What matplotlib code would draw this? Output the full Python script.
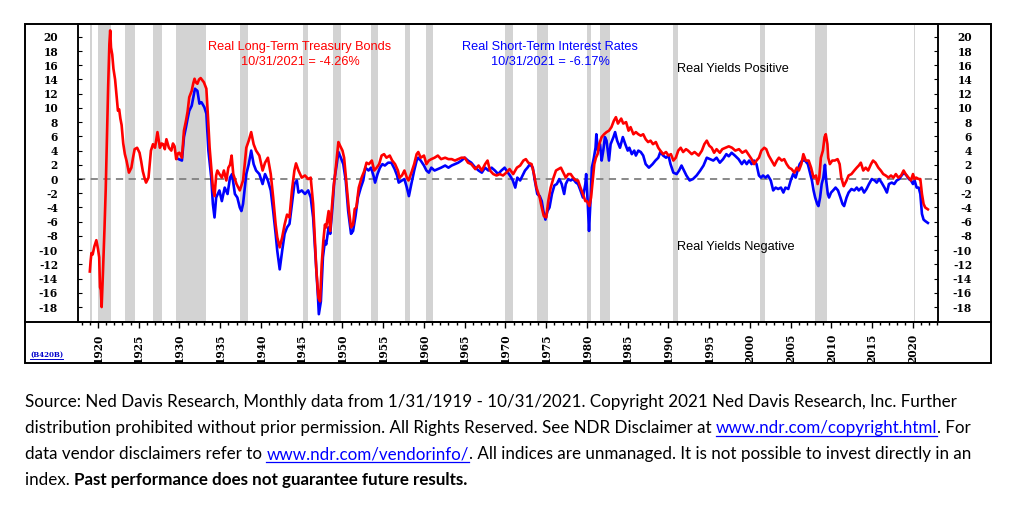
import matplotlib
matplotlib.use('Agg')
import matplotlib.pyplot as plt
from matplotlib.lines import Line2D
from matplotlib.patches import Rectangle
from matplotlib.ticker import MultipleLocator

plt.rcParams['axes.unicode_minus'] = False

# ---------------- data ----------------
lt_years = [1919.00, 1919.10, 1919.20, 1919.35, 1919.55, 1919.80, 1920.00, 1920.15, 1920.25, 1920.35,
            1920.45, 1920.60, 1920.80, 1920.95, 1921.10, 1921.25, 1921.40, 1921.50, 1921.60, 1921.75,
            1921.90, 1922.10, 1922.30, 1922.45, 1922.60, 1922.75, 1922.90, 1923.10, 1923.30, 1923.50,
            1923.80, 1924.10, 1924.30, 1924.50, 1924.80, 1925.10, 1925.30, 1925.50, 1925.75, 1925.90,
            1926.20, 1926.50, 1926.75, 1927.00, 1927.30, 1927.60, 1927.80, 1928.00, 1928.20, 1928.40,
            1928.70, 1929.00, 1929.20, 1929.40, 1929.60, 1929.80, 1930.00, 1930.30, 1930.55, 1930.80,
            1931.00, 1931.20, 1931.50, 1931.70, 1931.85, 1932.00, 1932.20, 1932.40, 1932.60, 1932.80,
            1933.00, 1933.30, 1933.50, 1933.70, 1933.90, 1934.10, 1934.30, 1934.50, 1934.65, 1934.90,
            1935.20, 1935.45, 1935.75, 1936.00, 1936.20, 1936.40, 1936.60, 1937.00, 1937.40, 1937.80,
            1938.00, 1938.20, 1938.50, 1938.80, 1939.10, 1939.40, 1939.80, 1940.20, 1940.50, 1940.85,
            1941.20, 1941.50, 1941.80, 1942.00, 1942.30, 1942.60, 1942.90, 1943.20, 1943.50, 1943.80,
            1944.10, 1944.30, 1944.60, 1945.00, 1945.40, 1945.80, 1946.10, 1946.40, 1946.60, 1946.80,
            1947.05, 1947.25, 1947.45, 1947.65, 1947.85, 1948.00, 1948.30, 1948.50, 1948.70, 1948.90,
            1949.10, 1949.30, 1949.50, 1949.70, 1950.00, 1950.20, 1950.50, 1950.80, 1951.05, 1951.30,
            1951.50, 1951.70, 1952.00, 1952.35, 1952.70, 1952.95, 1953.25, 1953.60, 1953.90, 1954.20,
            1954.50, 1954.80, 1955.10, 1955.40, 1955.80, 1956.10, 1956.45, 1956.80, 1957.00, 1957.30,
            1957.60, 1957.90, 1958.10, 1958.40, 1958.80, 1959.10, 1959.30, 1959.60, 1960.00, 1960.30,
            1960.60, 1960.90, 1961.30, 1961.70, 1962.10, 1962.60, 1963.00, 1963.40, 1963.80, 1964.20,
            1964.60, 1965.00, 1965.40, 1965.80, 1966.30, 1966.70, 1967.10, 1967.50, 1967.80, 1968.10,
            1968.50, 1968.90, 1969.30, 1969.70, 1970.10, 1970.50, 1970.95, 1971.40, 1971.80, 1972.20,
            1972.50, 1972.80, 1973.20, 1973.50, 1973.80, 1974.20, 1974.45, 1974.70, 1975.00, 1975.25,
            1975.55, 1975.90, 1976.20, 1976.50, 1976.80, 1977.10, 1977.40, 1977.70, 1978.00, 1978.30,
            1978.65, 1978.90, 1979.20, 1979.50, 1979.80, 1980.00, 1980.30, 1980.50, 1980.70, 1980.90,
            1981.10, 1981.30, 1981.50, 1981.80, 1982.10, 1982.40, 1982.70, 1983.00, 1983.30, 1983.55,
            1983.80, 1984.20, 1984.45, 1984.80, 1985.10, 1985.35, 1985.70, 1986.00, 1986.30, 1986.60,
            1986.90, 1987.20, 1987.50, 1987.80, 1988.10, 1988.45, 1988.75, 1989.00, 1989.35, 1989.70,
            1990.00, 1990.30, 1990.60, 1990.90, 1991.20, 1991.50, 1991.80, 1992.15, 1992.40, 1992.85,
            1993.20, 1993.70, 1994.10, 1994.40, 1994.70, 1995.00, 1995.30, 1995.60, 1995.90, 1996.30,
            1996.60, 1997.00, 1997.40, 1997.80, 1998.20, 1998.65, 1999.05, 1999.50, 1999.90, 2000.20,
            2000.50, 2000.80, 2001.10, 2001.40, 2001.75, 2002.00, 2002.30, 2002.65, 2003.00, 2003.30,
            2003.55, 2003.90, 2004.20, 2004.50, 2004.80, 2005.10, 2005.45, 2005.75, 2006.00, 2006.30,
            2006.55, 2006.85, 2007.20, 2007.50, 2007.80, 2008.10, 2008.30, 2008.50, 2008.70, 2008.95,
            2009.15, 2009.30, 2009.50, 2009.60, 2009.80, 2010.10, 2010.40, 2010.75, 2011.00, 2011.20,
            2011.50, 2011.85, 2012.10, 2012.45, 2012.80, 2013.10, 2013.35, 2013.60, 2013.90, 2014.20,
            2014.50, 2014.85, 2015.10, 2015.40, 2015.75, 2016.05, 2016.35, 2016.65, 2017.00, 2017.30,
            2017.60, 2017.90, 2018.20, 2018.55, 2018.85, 2019.10, 2019.45, 2019.75, 2020.00, 2020.20,
            2020.40, 2020.70, 2020.90, 2021.10, 2021.30, 2021.50, 2021.83]
lt_values = [-13.0, -11.5, -10.4, -10.6, -9.5, -8.6, -9.8, -11.0, -15.2, -15.6,
             -18.0, -13.5, -7.0, -1.5, 6.0, 13.0, 19.0, 20.9, 18.5, 17.5,
             15.5, 14.0, 11.5, 9.6, 9.8, 8.5, 7.6, 5.0, 3.5, 2.6,
             0.9, 1.6, 3.0, 4.2, 4.4, 3.7, 2.5, 1.1, 0.0, -0.5,
             0.2, 4.0, 4.9, 4.4, 6.6, 4.4, 5.0, 4.9, 4.2, 5.6,
             4.4, 4.0, 5.0, 4.6, 2.8, 3.6, 3.7, 3.0, 6.8, 8.2,
             9.5, 11.5, 12.4, 13.5, 14.1, 13.6, 13.4, 14.0, 14.2, 13.9,
             13.6, 12.7, 8.7, 4.4, 1.6, -1.2, -2.4, 0.5, 1.2, 0.7,
             0.2, 1.2, -0.2, 1.6, 2.0, 3.3, 0.7, -0.7, -1.6, -0.2,
             2.0, 4.4, 5.4, 6.6, 4.9, 4.0, 3.3, 1.2, 2.3, 3.0,
             0.7, -2.6, -6.4, -8.2, -9.6, -8.2, -6.4, -5.0, -5.4, -1.6,
             1.2, 2.2, 1.2, 0.2, 0.5, 0.0, 0.2, -3.5, -8.2, -12.9,
             -16.7, -17.2, -12.0, -8.7, -6.4, -6.8, -4.5, -7.3, -4.0, -1.2,
             0.7, 3.0, 5.2, 4.7, 4.0, 3.0, -0.7, -4.5, -6.8, -6.4,
             -4.2, -4.0, -1.2, 0.2, 1.2, 2.3, 2.1, 2.6, 1.2, 1.6,
             2.1, 3.3, 3.5, 3.0, 3.3, 2.6, 2.1, 1.2, 0.2, 0.5,
             1.2, 0.2, -0.2, 0.7, 2.1, 3.5, 3.8, 3.0, 3.3, 2.1,
             2.6, 2.8, 3.0, 3.3, 2.8, 3.0, 2.8, 2.8, 2.6, 2.8,
             3.0, 3.0, 2.3, 2.1, 1.4, 1.9, 1.2, 2.1, 2.6, 1.2,
             0.7, 0.5, 0.7, 0.5, 0.9, 1.4, 0.7, 1.6, 1.9, 2.6,
             2.8, 2.3, 2.1, 0.7, -1.2, -2.6, -4.0, -5.2, -5.4, -3.1,
             -1.2, 0.2, 1.2, 1.4, 1.6, 0.9, 0.2, 0.7, 0.7, 0.2,
             -0.2, -0.2, -1.2, -2.1, -3.1, -3.1, -3.8, -2.6, -0.2, 2.1,
             3.0, 3.5, 4.9, 5.9, 6.3, 6.6, 6.8, 7.3, 8.2, 8.7,
             7.8, 8.5, 7.8, 8.0, 6.8, 7.3, 6.3, 6.6, 6.3, 6.1,
             6.3, 5.6, 5.2, 5.4, 4.9, 5.2, 4.4, 4.0, 3.5, 3.8,
             3.3, 3.5, 2.6, 3.0, 4.0, 4.4, 3.8, 4.2, 4.0, 3.5,
             3.8, 3.3, 4.0, 4.9, 5.4, 4.7, 4.4, 3.7, 4.2, 3.7,
             4.2, 4.4, 4.6, 4.4, 4.0, 4.2, 3.7, 4.0, 3.3, 2.8,
             2.1, 2.6, 3.0, 4.0, 4.4, 4.2, 3.3, 2.6, 1.9, 2.6,
             3.0, 2.6, 2.8, 2.1, 1.6, 1.4, 0.9, 1.6, 1.2, 2.1,
             3.5, 2.6, 2.6, 1.6, 0.2, 0.5, -0.7, 0.2, 3.0, 4.0,
             5.9, 6.3, 4.9, 3.0, 2.1, 2.6, 2.6, 2.8, 2.1, 0.2,
             -1.0, -0.2, 0.5, 0.7, 1.2, 1.6, 1.9, 2.3, 1.2, 1.6,
             1.2, 2.1, 2.6, 2.3, 1.6, 1.2, 0.7, 0.5, 0.2, 0.5,
             0.2, 0.7, 0.2, 0.5, 1.2, 0.7, 0.2, -0.2, 0.7, 0.0,
             0.2, 0.0, 0.0, -2.1, -3.5, -4.0, -4.26]

st_years = [1929.90, 1930.30, 1930.55, 1930.80, 1931.00, 1931.20, 1931.50, 1931.70, 1931.90, 1932.20,
            1932.45, 1932.70, 1933.05, 1933.30, 1933.55, 1933.90, 1934.10, 1934.30, 1934.50, 1934.70,
            1934.90, 1935.20, 1935.55, 1935.90, 1936.20, 1936.45, 1936.80, 1937.10, 1937.40, 1937.60,
            1937.80, 1938.20, 1938.50, 1938.80, 1939.10, 1939.40, 1939.80, 1940.20, 1940.50, 1940.85,
            1941.20, 1941.50, 1941.80, 1942.00, 1942.30, 1942.60, 1942.90, 1943.20, 1943.50, 1943.80,
            1944.10, 1944.40, 1944.60, 1945.00, 1945.40, 1945.80, 1946.10, 1946.40, 1946.70, 1947.00,
            1947.10, 1947.35, 1947.60, 1947.85, 1948.00, 1948.30, 1948.50, 1948.80, 1949.00, 1949.30,
            1949.50, 1949.80, 1950.10, 1950.40, 1950.70, 1951.05, 1951.30, 1951.60, 1951.90, 1952.25,
            1952.55, 1952.80, 1953.20, 1953.50, 1953.80, 1954.00, 1954.30, 1954.60, 1954.90, 1955.20,
            1955.60, 1956.00, 1956.40, 1956.70, 1956.90, 1957.30, 1957.60, 1957.90, 1958.15, 1958.45,
            1958.80, 1959.10, 1959.30, 1959.60, 1960.00, 1960.30, 1960.60, 1960.90, 1961.30, 1961.70,
            1962.10, 1962.60, 1963.00, 1963.40, 1963.80, 1964.20, 1964.60, 1965.00, 1965.40, 1965.80,
            1966.30, 1966.70, 1967.10, 1967.50, 1967.90, 1968.30, 1968.70, 1969.10, 1969.50, 1969.90,
            1970.30, 1970.55, 1970.90, 1971.20, 1971.45, 1971.80, 1972.10, 1972.40, 1972.70, 1973.00,
            1973.35, 1973.60, 1973.90, 1974.20, 1974.45, 1974.65, 1974.90, 1975.15, 1975.40, 1975.70,
            1976.00, 1976.30, 1976.60, 1976.90, 1977.20, 1977.40, 1977.70, 1978.00, 1978.30, 1978.65,
            1978.90, 1979.20, 1979.50, 1979.80, 1979.90, 1980.10, 1980.25, 1980.45, 1980.60, 1980.85,
            1981.05, 1981.15, 1981.35, 1981.60, 1981.80, 1982.00, 1982.20, 1982.40, 1982.70, 1982.90,
            1983.25, 1983.45, 1983.70, 1984.05, 1984.40, 1984.70, 1985.00, 1985.20, 1985.50, 1985.80,
            1986.00, 1986.30, 1986.60, 1986.90, 1987.20, 1987.60, 1988.05, 1988.40, 1988.75, 1989.00,
            1989.35, 1989.70, 1990.00, 1990.25, 1990.60, 1991.00, 1991.30, 1991.60, 1991.90, 1992.20,
            1992.60, 1993.00, 1993.45, 1993.90, 1994.30, 1994.70, 1995.10, 1995.50, 1995.90, 1996.30,
            1996.70, 1997.10, 1997.40, 1997.75, 1998.15, 1998.60, 1999.00, 1999.30, 1999.60, 1999.90,
            2000.20, 2000.50, 2000.80, 2001.10, 2001.35, 2001.60, 2001.90, 2002.20, 2002.55, 2002.85,
            2003.15, 2003.45, 2003.80, 2004.10, 2004.35, 2004.70, 2005.00, 2005.30, 2005.60, 2005.85,
            2006.10, 2006.40, 2006.75, 2007.10, 2007.40, 2007.60, 2007.80, 2008.00, 2008.25, 2008.40,
            2008.60, 2008.80, 2009.00, 2009.20, 2009.35, 2009.55, 2009.70, 2009.95, 2010.20, 2010.50,
            2010.80, 2011.10, 2011.35, 2011.55, 2011.85, 2012.10, 2012.45, 2012.80, 2013.10, 2013.35,
            2013.70, 2014.00, 2014.30, 2014.60, 2014.95, 2015.30, 2015.55, 2015.85, 2016.15, 2016.50,
            2016.80, 2017.05, 2017.40, 2017.70, 2018.00, 2018.30, 2018.60, 2018.90, 2019.20, 2019.50,
            2019.75, 2020.00, 2020.20, 2020.45, 2020.70, 2020.90, 2021.10, 2021.30, 2021.50, 2021.83]
st_values = [2.8, 2.6, 5.9, 7.3, 8.5, 9.6, 10.3, 11.5, 12.7, 12.4,
             10.6, 10.8, 10.1, 9.2, 4.0, 0.2, -3.5, -5.4, -2.6, -2.1,
             -1.6, -3.1, -1.2, -2.1, 0.2, 0.7, -2.1, -2.6, -4.0, -4.5,
             -3.5, 0.7, 2.1, 4.0, 2.1, 1.2, 0.7, -0.7, 0.7, -0.2,
             -1.6, -4.5, -7.7, -10.1, -12.7, -10.1, -7.7, -6.8, -6.3, -3.5,
             -0.7, -0.2, -1.9, -1.6, -2.1, -1.6, -2.6, -5.4, -11.0, -16.7,
             -19.0, -17.2, -11.0, -8.7, -9.2, -6.8, -7.7, -3.5, -0.2, 2.1,
             3.8, 3.0, 2.1, -0.2, -4.5, -7.7, -7.3, -5.2, -2.6, -1.2,
             -0.2, 1.6, 1.2, 1.6, 0.5, -0.5, 0.7, 1.6, 2.1, 1.9,
             2.3, 2.3, 1.4, 0.5, -0.5, -0.2, 0.0, -1.2, -2.4, -0.7,
             1.2, 2.6, 3.0, 2.6, 1.9, 1.2, 0.9, 1.6, 1.2, 1.4,
             1.6, 1.9, 1.6, 1.9, 2.1, 2.3, 2.6, 3.0, 2.6, 2.3,
             1.6, 1.2, 0.9, 1.6, 1.2, 1.6, 1.2, 0.7, 1.2, 1.6,
             0.9, 0.5, -0.2, -1.2, 0.2, -0.2, 0.5, 1.2, 1.6, 2.1,
             1.6, -0.2, -2.1, -2.4, -3.1, -4.5, -5.7, -4.5, -4.0, -2.1,
             -0.9, -0.7, 0.0, -0.7, -2.1, -0.7, 0.0, -0.2, 0.0, -0.5,
             -0.7, -1.6, -2.6, -0.7, 0.7, -3.5, -7.3, -2.6, 1.6, 3.0,
             4.4, 6.3, 4.0, 4.9, 2.6, 4.0, 5.9, 5.4, 2.6, 4.9,
             5.9, 6.6, 5.4, 4.4, 5.9, 4.9, 4.0, 4.4, 3.5, 4.0,
             3.3, 4.0, 3.8, 3.3, 2.1, 1.6, 2.1, 2.6, 3.0, 3.8,
             3.3, 3.0, 3.3, 2.1, 0.9, 0.7, 1.2, 1.9, 1.2, 0.5,
             -0.2, 0.0, 0.5, 1.2, 1.9, 3.0, 2.8, 2.6, 3.0, 2.3,
             2.8, 3.5, 3.2, 3.7, 3.3, 2.8, 2.1, 2.6, 2.1, 2.6,
             2.1, 2.6, 2.1, 0.5, 0.2, 0.5, 0.2, 0.5, -0.2, -1.6,
             -1.2, -1.4, -1.2, -1.9, -1.2, -1.4, -0.2, 0.7, 0.2, 1.2,
             2.1, 2.6, 2.6, 2.1, 0.7, -0.2, -1.6, -2.6, -3.5, -3.8,
             -2.6, -0.7, 0.2, 2.0, -0.2, -2.1, -2.6, -1.9, -1.6, -1.2,
             -1.6, -2.6, -3.5, -3.8, -2.6, -1.9, -1.4, -1.6, -1.2, -1.6,
             -1.2, -1.9, -1.4, -0.7, 0.0, -0.2, -0.5, 0.0, -0.5, -1.2,
             -1.9, -0.7, -0.5, -0.7, -0.2, 0.0, 0.5, 0.9, 0.5, 0.0,
             -0.2, -0.7, -0.2, -1.2, -1.2, -2.1, -4.9, -5.7, -5.9, -6.17]

rec_start = [1919.00, 1920.04, 1923.37, 1926.79, 1929.62, 1937.37, 1945.12, 1948.87, 1953.54, 1957.62,
             1960.29, 1969.96, 1973.87, 1980.04, 1981.54, 1990.54, 2001.21, 2007.96, 2020.12]
rec_end = [1919.25, 1921.54, 1924.54, 1927.87, 1933.21, 1938.46, 1945.79, 1949.79, 1954.37, 1958.29,
           1961.12, 1970.87, 1975.21, 1980.54, 1982.87, 1991.21, 2001.87, 2009.46, 2020.29]

x_ticks = list(range(1920, 2021, 5))
x_labels = [str(y) for y in x_ticks]
y_ticks = list(range(-18, 21, 2))
y_labels = [str(v) for v in y_ticks]

lt_title = "Real Long-Term Treasury Bonds"
lt_sub = "10/31/2021 = -4.26%"
st_title = "Real Short-Term Interest Rates"
st_sub = "10/31/2021 = -6.17%"
pos_label = "Real Yields Positive"
neg_label = "Real Yields Negative"
code_label = "(B420B)"

caption = [
    [("Source: Ned Davis Research, Monthly data from 1/31/1919 - 10/31/2021. Copyright 2021 Ned Davis Research, Inc. Further", "n")],
    [("distribution prohibited without prior permission. All Rights Reserved. See NDR Disclaimer at ", "n"),
     ("www.ndr.com/copyright.html", "link"), (". For", "n")],
    [("data vendor disclaimers refer to ", "n"), ("www.ndr.com/vendorinfo/", "link"),
     (". All indices are unmanaged. It is not possible to invest directly in an", "n")],
    [("index. ", "n"), ("Past performance does not guarantee future results.", "b")],
]

# ---------------- figure ----------------
W, H = 1019, 512
fig = plt.figure(figsize=(W / 100, H / 100), dpi=100)
fig.patch.set_facecolor('white')


def fx(px):
    return px / W


def fy(py):
    return 1 - py / H


tick_font = dict(family='DejaVu Serif', weight='bold', size=7.7)

ax = fig.add_axes([fx(78), fy(322), fx(938) - fx(78), fy(24) - fy(322)])
ax.set_xlim(1917.55, 2023.07)
ax.set_ylim(-20.1, 21.8)

for s, e in zip(rec_start, rec_end):
    ax.axvspan(s, e, color='#d3d3d3', lw=0, zorder=0)
ax.axhline(0, color='#808080', lw=1.3, ls=(0, (4, 3)), zorder=1)
ax.plot(st_years, st_values, color='#0000ff', lw=1.9, zorder=2, solid_joinstyle='round')
ax.plot(lt_years, lt_values, color='#ff0000', lw=1.9, zorder=3, solid_joinstyle='round')

ax.set_xticks(x_ticks)
ax.set_xticklabels(x_labels, rotation=90, **tick_font)
ax.xaxis.set_minor_locator(MultipleLocator(1))
ax.tick_params(axis='x', which='major', direction='out', length=4, width=1, pad=4.5)
ax.tick_params(axis='x', which='minor', direction='out', length=2.5, width=1)

ax.set_yticks(y_ticks)
ax.set_yticklabels(y_labels, **tick_font)
ax.tick_params(axis='y', which='major', direction='in', length=3, width=0.8, pad=14.4,
               left=True, right=False)

ax2 = ax.twinx()
ax2.set_ylim(ax.get_ylim())
ax2.set_yticks(y_ticks)
ax2.set_yticklabels(y_labels, **tick_font)
ax2.tick_params(axis='y', which='major', direction='in', length=3, width=0.8, pad=24.5)
for lab in ax2.get_yticklabels():
    lab.set_horizontalalignment('right')

for a in (ax, ax2):
    for sp in a.spines.values():
        sp.set_linewidth(1.1)
        sp.set_color('black')

# outer frame
fig.add_artist(Rectangle((fx(25), fy(363)), fx(991) - fx(25), fy(24) - fy(363),
                         transform=fig.transFigure, fill=False, ec='black', lw=1.4))
fig.add_artist(Line2D([fx(25), fx(991)], [fy(322), fy(322)], transform=fig.transFigure,
                      color='black', lw=1.4))

# annotations
ann = dict(family='Liberation Sans', fontsize=9.2, ha='center', va='center')
fig.text(fx(300), fy(47), lt_title, color='#ff0000', **ann)
fig.text(fx(300), fy(62), lt_sub, color='#ff0000', **ann)
fig.text(fx(550), fy(47), st_title, color='#0000ff', **ann)
fig.text(fx(550), fy(62), st_sub, color='#0000ff', **ann)
fig.text(fx(733), fy(69), pos_label, color='black', **ann)
fig.text(fx(736), fy(247), neg_label, color='black', **ann)

ct = fig.text(fx(30), fy(357), code_label, color='#0000cc', family='DejaVu Serif',
              weight='bold', fontsize=5, ha='left', va='baseline')

renderer = fig.canvas.get_renderer()
bb = ct.get_window_extent(renderer)
fig.add_artist(Line2D([bb.x0 / W, bb.x1 / W], [fy(358.5), fy(358.5)], transform=fig.transFigure,
                      color='#0000cc', lw=0.7))

# caption
cap_family = 'Lato'


def text_width(s, size, weight='normal'):
    t1 = fig.text(0, 0, s + '|', family=cap_family, fontsize=size, weight=weight)
    t2 = fig.text(0, 0, '|', family=cap_family, fontsize=size, weight=weight)
    w = t1.get_window_extent(renderer).width - t2.get_window_extent(renderer).width
    t1.remove()
    t2.remove()
    return w


target_w = 932.0
base = 12.0
cap_size = base * target_w / text_width(caption[0][0][0], base)

baselines = [407, 433, 459, 485]
for line, ybase in zip(caption, baselines):
    x = 25.0
    for txt, style in line:
        weight = 'bold' if style == 'b' else 'normal'
        color = '#0000ff' if style == 'link' else 'black'
        fig.text(fx(x), fy(ybase), txt, family=cap_family, fontsize=cap_size, weight=weight,
                 color=color, ha='left', va='baseline')
        w = text_width(txt, cap_size, weight)
        if style == 'link':
            fig.add_artist(Line2D([fx(x), fx(x + w)], [fy(ybase + 2.5), fy(ybase + 2.5)],
                                  transform=fig.transFigure, color='#0000ff', lw=0.9))
        x += w

fig.savefig('out.png', dpi=100, facecolor='white')
